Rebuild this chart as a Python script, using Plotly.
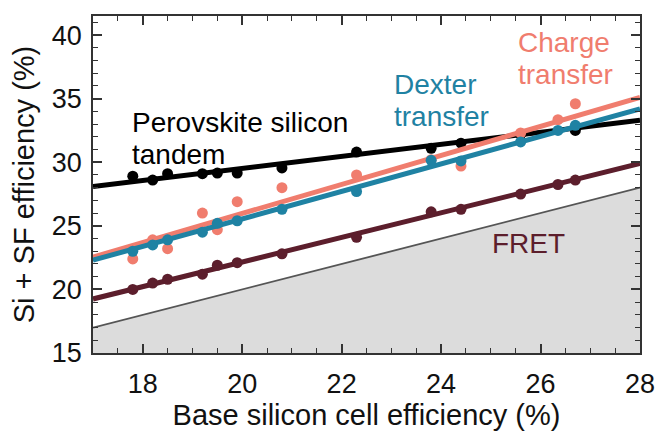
import plotly.graph_objects as go

# ---- data ----
si_eff = [17.8, 18.2, 18.5, 19.2, 19.5, 19.9, 20.8, 22.3, 23.8, 24.4, 25.6, 26.35, 26.7]
tandem_x = [17.8, 18.2, 18.5, 19.2, 19.5, 19.9, 20.8, 22.3, 23.8, 24.4, 25.6, 26.7]
tandem = [28.9, 28.6, 29.1, 29.1, 29.15, 29.15, 29.55, 30.8, 31.1, 31.5, 32.2, 32.5]
charge = [22.4, 23.9, 23.2, 26.0, 24.7, 26.9, 28.0, 29.0, 30.2, 29.7, 32.3, 33.35, 34.6]
dexter = [23.0, 23.5, 23.9, 24.5, 25.2, 25.4, 26.3, 27.7, 30.15, 30.1, 31.6, 32.5, 32.9]
fret = [20.0, 20.5, 20.8, 21.2, 21.9, 22.1, 22.8, 24.1, 26.1, 26.3, 27.5, 28.25, 28.6]

fit_x = [17, 28]
tandem_fit = [28.1, 33.3]
charge_fit = [22.55, 35.1]
dexter_fit = [22.3, 34.2]
fret_fit = [19.25, 29.9]
si_only = [17, 28]

BLACK = "#000000"
SALMON = "#F07D6E"
BLUE = "#1F82A3"
MAROON = "#5C1E2C"
FONT = "Liberation Sans, Arial, sans-serif"

fig = go.Figure()
fig.add_trace(go.Scatter(x=fit_x, y=si_only, mode="lines", fill="tozeroy",
                         fillcolor="#DCDCDC", line=dict(color="#555555", width=1.8)))

for xs, pts, fit, col in [(tandem_x, tandem, tandem_fit, BLACK),
                          (si_eff, fret, fret_fit, MAROON),
                          (si_eff, charge, charge_fit, SALMON),
                          (si_eff, dexter, dexter_fit, BLUE)]:
    fig.add_trace(go.Scatter(x=fit_x, y=fit, mode="lines", line=dict(color=col, width=5)))
    fig.add_trace(go.Scatter(x=xs, y=pts, mode="markers",
                             marker=dict(color=col, size=11, line=dict(width=0))))

labels = [
    ("Perovskite silicon", 17.75, 33.1, BLACK),
    ("tandem", 17.75, 30.6, BLACK),
    ("Dexter", 23.02, 36.1, BLUE),
    ("transfer", 23.02, 33.6, BLUE),
    ("Charge", 25.51, 39.4, SALMON),
    ("transfer", 25.51, 36.9, SALMON),
    ("FRET", 24.98, 23.6, MAROON),
]
for txt, x, y, col in labels:
    fig.add_annotation(x=x, y=y, xref="x", yref="y", text=txt, showarrow=False,
                       xanchor="left", yanchor="middle",
                       font=dict(family=FONT, size=28, color=col))

axis_common = dict(showgrid=False, zeroline=False, showline=True, linecolor="#333333",
                   linewidth=1.5, mirror="ticks", ticks="inside", ticklen=9,
                   tickwidth=1.5, tickcolor="#333333", automargin=False,
                   tickfont=dict(family=FONT, size=27, color="#111111"))

fig.update_xaxes(range=[17, 28], tick0=18, dtick=2, ticklabelstandoff=6,
                 minor=dict(dtick=0.5, tick0=17, ticks="inside", ticklen=5,
                            tickwidth=1.2, tickcolor="#333333"),
                 title=dict(text="Base silicon cell efficiency (%)",
                            font=dict(family=FONT, size=29, color="#111111"), standoff=1),
                 **axis_common)
fig.update_yaxes(range=[15, 41.5], tick0=15, dtick=5, ticklabelstandoff=4,
                 minor=dict(dtick=1, tick0=15, ticks="inside", ticklen=5,
                            tickwidth=1.2, tickcolor="#333333"),
                 title=dict(text="Si + SF efficiency (%)",
                            font=dict(family=FONT, size=29, color="#111111"), standoff=9),
                 **axis_common)

fig.update_layout(width=657, height=433, showlegend=False,
                  margin=dict(l=93, r=17, t=16, b=80),
                  paper_bgcolor="white", plot_bgcolor="white")
fig.write_html("out.html", config={"displayModeBar": False},
               post_script="document.body.style.margin='0';")
